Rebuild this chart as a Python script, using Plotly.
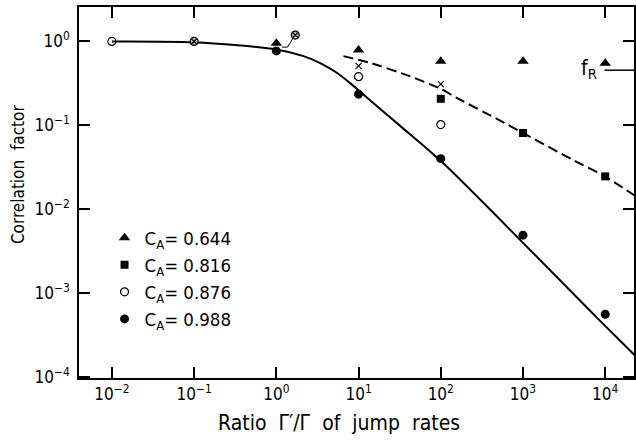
import plotly.graph_objects as go

# ---- data ----
# C_A = 0.644 (filled triangles)
tri_x = [1, 10, 100, 1000, 10000]
tri_y = [0.95, 0.79, 0.58, 0.58, 0.55]
# C_A = 0.816 (filled squares)
sq_x = [100, 1000, 10000]
sq_y = [0.207, 0.081, 0.0246]
# C_A = 0.876 (open circles)
oc_x = [0.01, 10, 100]
oc_y = [1.0, 0.38, 0.102]
# C_A = 0.988 (filled circles)
fc_x = [1, 10, 100, 1000, 10000]
fc_y = [0.77, 0.235, 0.040, 0.0049, 0.00056]
# crosses (unlabelled)
cr_x = [10, 100]
cr_y = [0.51, 0.31]
# circle-with-cross points
cx_x = [0.1, 1.7]
cx_y = [1.0, 1.19]
# leader line to the displaced point
lead_x = [1.17, 1.37, 1.6]
lead_y = [0.855, 0.855, 1.1]
# solid curve
sol_x = [0.01, 0.1, 1, 2.14, 3.41, 5.44, 7.89, 12.6, 31.8, 106.6, 8070, 23100]
sol_y = [1.0, 0.975, 0.80, 0.667, 0.552, 0.423, 0.318, 0.215, 0.0991, 0.0355, 0.0005, 0.00018]
# dashed curve
dash_x = [6.55, 13.8, 42.1, 100, 170, 501, 1000, 3980, 10000, 22900]
dash_y = [0.668, 0.556, 0.385, 0.272, 0.203, 0.117, 0.081, 0.039, 0.0246, 0.0145]
# f_R level
fR_x = [9800, 23100]
fR_y = [0.454, 0.454]

xticks = [0.01, 0.1, 1, 10, 100, 1000, 10000]
xtick_text = ["10<sup>−2</sup>", "10<sup>−1</sup>", "10<sup>0</sup>", "10<sup>1</sup>",
              "10<sup>2</sup>", "10<sup>3</sup>", "10<sup>4</sup>"]
yticks = [1, 0.1, 0.01, 0.001, 0.0001]
ytick_text = ["10<sup>0</sup>", "10<sup>−1</sup>", "10<sup>−2</sup>",
              "10<sup>−3</sup>", "10<sup>−4</sup>"]

FONT = "DejaVu Sans Condensed, Liberation Sans Narrow, sans-serif"
NB = "\u00a0\u00a0"

fig = go.Figure()

fig.add_trace(go.Scatter(x=sol_x, y=sol_y, mode="lines",
                         line=dict(color="black", width=2, shape="spline", smoothing=0.8),
                         showlegend=False, hoverinfo="skip"))
fig.add_trace(go.Scatter(x=dash_x, y=dash_y, mode="lines",
                         line=dict(color="black", width=2, dash="10px,5px", shape="spline", smoothing=0.5),
                         showlegend=False, hoverinfo="skip"))
fig.add_trace(go.Scatter(x=fR_x, y=fR_y, mode="lines", line=dict(color="black", width=1.5),
                         showlegend=False, hoverinfo="skip"))
fig.add_trace(go.Scatter(x=lead_x, y=lead_y, mode="lines", line=dict(color="black", width=1),
                         showlegend=False, hoverinfo="skip"))

fig.add_trace(go.Scatter(x=tri_x, y=tri_y, mode="markers", name="C<sub>A</sub>= 0.644",
                         marker=dict(symbol="triangle-up", size=10, color="black"), legendgroup="a"))
fig.add_trace(go.Scatter(x=sq_x, y=sq_y, mode="markers", name="C<sub>A</sub>= 0.816",
                         marker=dict(symbol="square", size=8, color="black"), legendgroup="b"))
fig.add_trace(go.Scatter(x=oc_x, y=oc_y, mode="markers", name="C<sub>A</sub>= 0.876",
                         marker=dict(symbol="circle-open", size=8, color="black", line=dict(width=1.2)),
                         legendgroup="c"))
fig.add_trace(go.Scatter(x=fc_x, y=fc_y, mode="markers", name="C<sub>A</sub>= 0.988",
                         marker=dict(symbol="circle", size=9, color="black"), legendgroup="d"))
fig.add_trace(go.Scatter(x=cr_x, y=cr_y, mode="markers", showlegend=False,
                         marker=dict(symbol="x-thin", size=6, color="black", line=dict(width=1.2, color="black"))))
fig.add_trace(go.Scatter(x=cx_x, y=cx_y, mode="markers", showlegend=False,
                         marker=dict(symbol="circle-x", size=8, color="#bbbbbb", line=dict(width=1.2, color="black"))))

fig.add_annotation(x=3.93, y=-0.33, xref="x", yref="y", text="f<sub>R</sub>", showarrow=False,
                   xanchor="right", yanchor="middle", font=dict(size=21, color="black", family=FONT))
fig.add_annotation(x=-0.111, y=0.548, xref="paper", yref="paper", text="Correlation" + NB + "factor",
                   textangle=-90, xanchor="center", yanchor="middle",
                   showarrow=False, font=dict(size=17, color="black", family=FONT))
fig.add_annotation(x=0.4686, y=-0.121, xref="paper", yref="paper",
                   text="Ratio" + NB + "Γ′/Γ" + NB + "of" + NB + "jump" + NB + "rates",
                   xanchor="center", yanchor="middle",
                   showarrow=False, font=dict(size=21, color="black", family=FONT))

axis_common = dict(showgrid=False, zeroline=False, showline=True, linecolor="black", linewidth=1.5,
                   ticks="inside", ticklen=11, tickwidth=1.5, tickcolor="black", mirror="ticks",
                   tickfont=dict(size=17, color="black", family=FONT))

fig.update_xaxes(type="log", range=[-2.4, 4.35], tickvals=xticks, ticktext=xtick_text, **axis_common)
fig.update_yaxes(type="log", range=[-4.012, 0.41], tickvals=yticks, ticktext=ytick_text,
                 ticklabelstandoff=4, **axis_common)

fig.update_layout(
    width=636, height=440,
    margin=dict(l=79, r=0, t=7, b=62),
    plot_bgcolor="white", paper_bgcolor="white",
    font=dict(family=FONT, color="black"),
    legend=dict(x=0.046, y=0.428, xanchor="left", yanchor="top", bgcolor="rgba(0,0,0,0)",
                font=dict(size=18.5, color="black", family=FONT), tracegroupgap=0,
                itemwidth=30),
)

fig.write_html("out.html", config={"displayModeBar": False},
               post_script="document.body.style.margin='0';")
